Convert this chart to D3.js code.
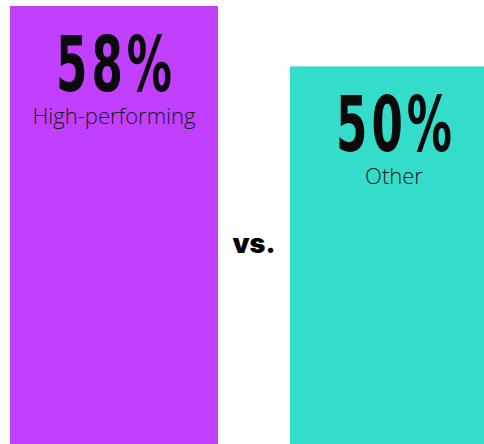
<!DOCTYPE html>
<html>
<head>
<meta charset="utf-8">
<script src="https://cdn.jsdelivr.net/npm/d3@7"></script>
<style>
  html, body { margin: 0; padding: 0; background: #fff; overflow: hidden; }
  svg { display: block; }
</style>
</head>
<body>
<div id="chart"></div>
<script>
const categories = ["High-performing", "Other"];
const values = [58, 50];
const valueLabels = ["58%", "50%"];
const colors = ["#C13FFF", "#34DCCA"];
const separatorText = "vs.";

const W = 484, H = 444;
const svg = d3.select("#chart").append("svg")
  .attr("width", W).attr("height", H);

const x = d3.scaleBand()
  .domain(categories)
  .range([10, 498])
  .paddingInner(72 / 280)
  .paddingOuter(0);

const y = d3.scaleLinear()
  .domain([0, 58])
  .range([H, 6]);

const data = categories.map((c, i) => ({ cat: c, value: values[i], label: valueLabels[i], color: colors[i] }));

const g = svg.selectAll("g.bar").data(data).join("g").attr("class", "bar");

g.append("rect")
  .attr("x", d => x(d.cat))
  .attr("y", d => y(d.value))
  .attr("width", x.bandwidth())
  .attr("height", d => y(0) - y(d.value))
  .attr("fill", d => d.color);

const sx = 0.66, targetW = 116;
g.append("text")
  .attr("text-anchor", "start")
  .attr("font-family", "'Liberation Sans Narrow', 'DejaVu Sans Condensed', sans-serif")
  .attr("font-weight", 700)
  .attr("font-size", 76)
  .attr("fill", "#0a0a0a")
  .text(d => d.label)
  .each(function(d) {
    const t = d3.select(this);
    const w0 = this.getComputedTextLength();
    const n = d.label.length;
    const ls = Math.max(0, (targetW / sx - w0) / (n - 1));
    t.attr("letter-spacing", ls);
    const cx = x(d.cat) + x.bandwidth() / 2;
    t.attr("transform", `translate(${cx - targetW / 2},${y(d.value) + 85}) scale(${sx},1)`);
  });

g.append("text")
  .attr("x", d => x(d.cat) + x.bandwidth() / 2)
  .attr("y", d => y(d.value) + 118)
  .attr("text-anchor", "middle")
  .attr("font-family", "'Open Sans', sans-serif")
  .attr("font-weight", 300)
  .attr("font-size", 22)
  .attr("fill", "#1a1a1a")
  .text(d => d.cat);

svg.append("text")
  .attr("x", (x(categories[0]) + x.bandwidth() + x(categories[1])) / 2)
  .attr("y", 253)
  .attr("text-anchor", "middle")
  .attr("font-family", "Inter, sans-serif")
  .attr("font-weight", 900)
  .attr("font-size", 27)
  .attr("fill", "#000")
  .text(separatorText);
</script>
</body>
</html>
